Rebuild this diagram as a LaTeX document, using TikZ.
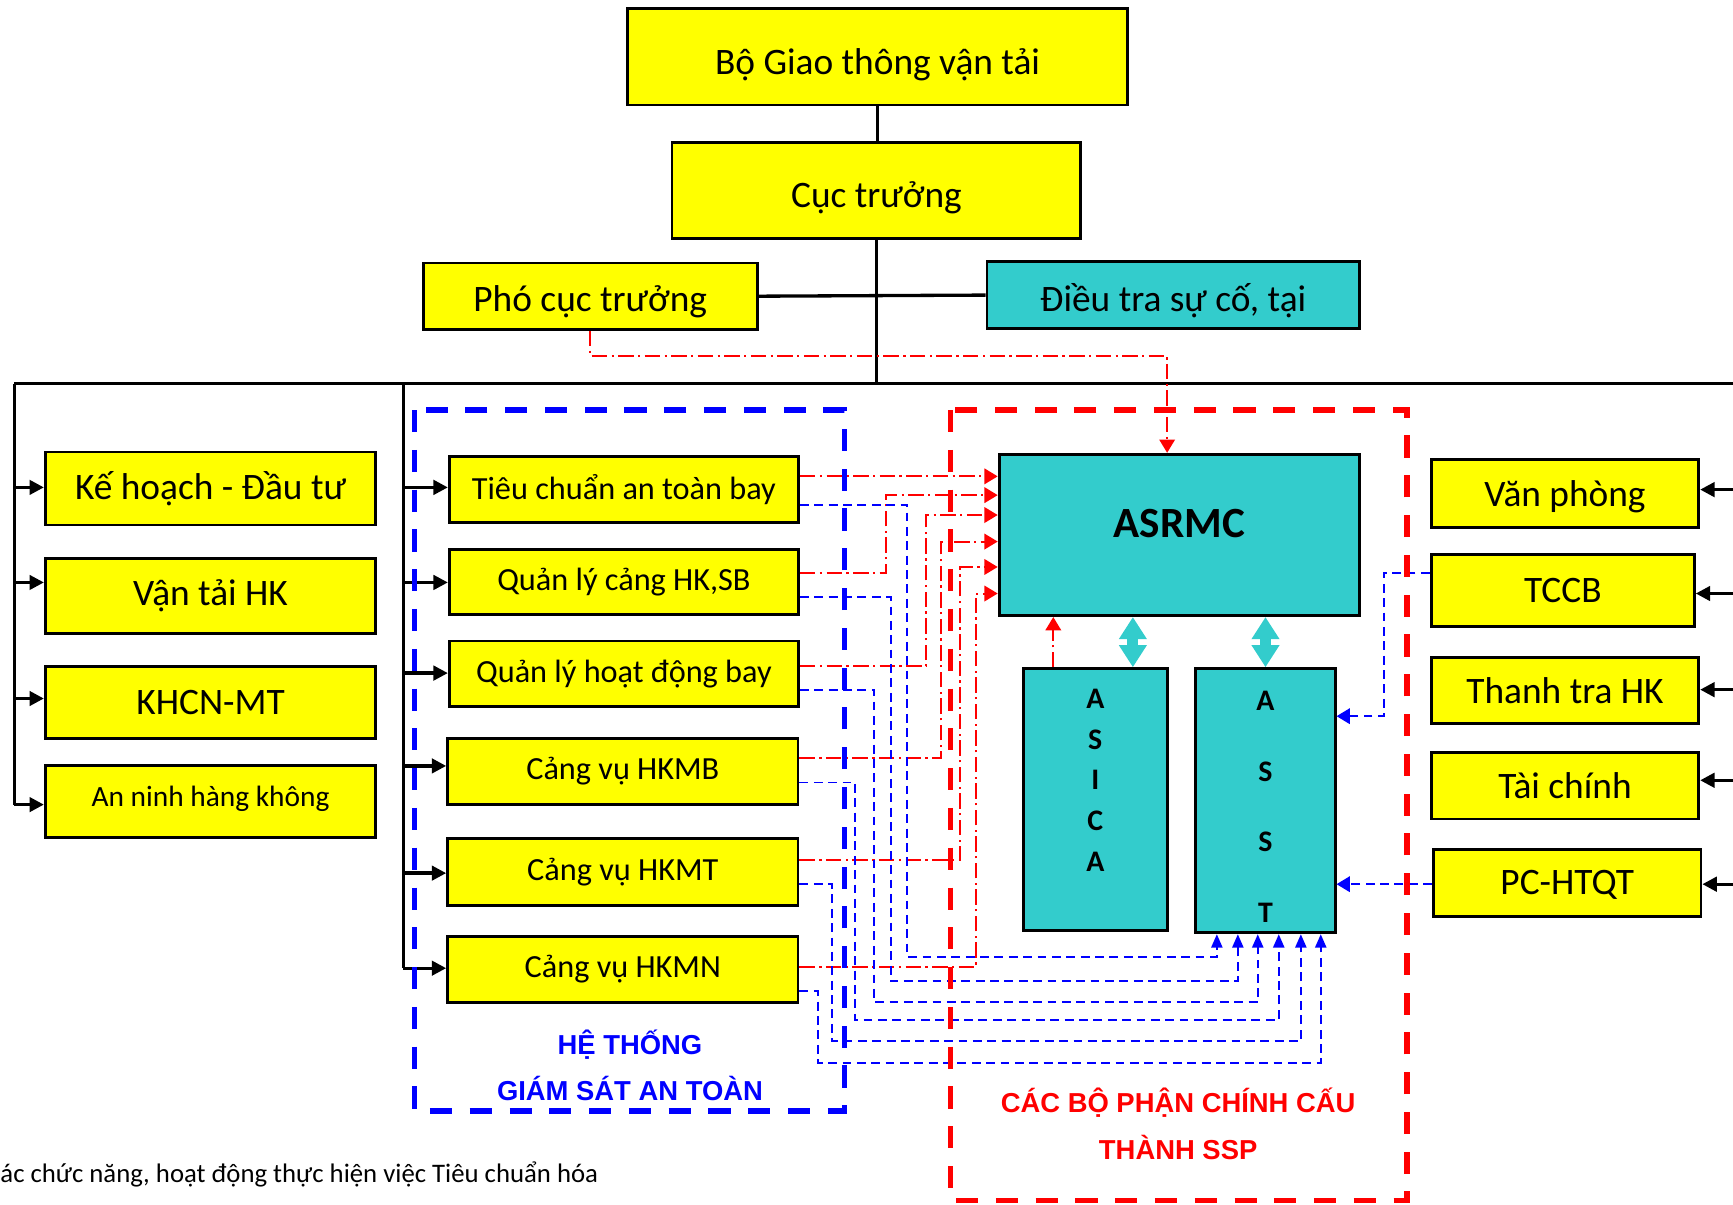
\documentclass[tikz,border=0pt]{standalone}
\usepackage{fontspec}
\setmainfont{Carlito}
\newfontfamily\labfont{Liberation Sans}
\newcommand\lowertext[2]{\raisebox{-#1}[\height][\depth]{#2}}
\usetikzlibrary{arrows.meta,calc}
\definecolor{yel}{HTML}{FFFF00}
\definecolor{tea}{HTML}{33CCCC}
\definecolor{bl}{HTML}{0000FF}
\definecolor{rd}{HTML}{FF0000}
\begin{document}
\begin{tikzpicture}[x=0.5pt,y=-0.5pt,
  ybox/.style={draw=black, line width=1.3pt, fill=yel, inner sep=0pt, font=\fontsize{16.9}{19}\selectfont},
  mbox/.style={ybox, minimum width=158pt, minimum height=30pt, font=\fontsize{14.6}{17}\selectfont},
  lbox/.style={ybox, minimum width=149.5pt},
  rbox/.style={ybox, minimum width=121pt, minimum height=30pt},
  tbox/.style={ybox, fill=tea},
  trunk/.style={black, line width=1.1pt},
  blk/.style={black, line width=1.5pt, -{Triangle[length=6.5pt,width=6.5pt]}},
  rdd/.style={rd, line width=0.9pt, dash pattern=on 7pt off 2pt on 1pt off 2pt},
  rarr/.style={rdd, -{Triangle[length=6pt,width=7pt]}},
  bdd/.style={bl, line width=0.9pt, dash pattern=on 4pt off 2.5pt},
  barr/.style={bdd, -{Triangle[length=6pt,width=5pt]}},
  barrb/.style={bdd, -{Triangle[length=6pt,width=7pt]}},
  dbl/.style={tea, line width=5pt, {Triangle[length=10pt,width=12pt]}-{Triangle[length=10pt,width=12pt]}},
  frame/.style={line width=2.5pt, dash pattern=on 10pt off 8pt},
  lett/.style={font=\bfseries\fontsize{13.5}{18.5}\selectfont, align=center, inner sep=0pt},
  lab/.style={font=\labfont\bfseries\fontsize{12.4}{15}\selectfont, inner sep=0pt}
]
\useasboundingbox (0,0) rectangle (1568,1090);

% top
\node[ybox, minimum width=226pt, minimum height=43.5pt] (bgt) at (794,51.5) {\lowertext{3.5pt}{Bộ Giao thông vận tải}};
\node[ybox, minimum width=185pt, minimum height=43.5pt] (ct) at (793,172.5) {\lowertext{3pt}{Cục trưởng}};
\node[ybox, minimum width=151pt, minimum height=30pt] (pho) at (534,268) {\lowertext{2.5pt}{Phó cục trưởng}};
\node[tbox, minimum width=168.5pt, minimum height=30pt] (dt) at (1061.5,267) {\lowertext{2.5pt}{Điều tra sự cố, tại}};

% left column
\node[lbox, minimum height=33pt] (kh) at (190.5,442) {Kế hoạch - Đầu tư};
\node[lbox, minimum height=34pt] (vt) at (190.5,539) {Vận tải HK};
\node[lbox, minimum height=32.5pt] (khcn) at (190.5,635.5) {KHCN-MT};
\node[lbox, minimum height=32.5pt, font=\fontsize{13.3}{15}\selectfont] (an) at (190.5,725.5) {\lowertext{-1.5pt}{An ninh hàng không}};

% middle column
\node[mbox] (tc) at (564.5,443) {Tiêu chuẩn an toàn bay};
\node[mbox, minimum height=29.5pt] (qlc) at (564.5,526.5) {Quản lý cảng HK,SB};
\node[mbox, minimum height=29.5pt] (qlh) at (564.5,609.5) {Quản lý hoạt động bay};
\node[mbox, minimum width=158.5pt] (hkmb) at (563.5,698) {Cảng vụ HKMB};
\node[mbox, minimum width=158.5pt] (hkmt) at (563.5,789) {Cảng vụ HKMT};
\node[mbox, minimum width=158.5pt] (hkmn) at (563.5,877) {Cảng vụ HKMN};

% right column
\node[rbox, minimum height=30.5pt] (vp) at (1416,446.5) {\lowertext{1.5pt}{Văn phòng}};
\node[rbox, minimum width=119pt, minimum height=32.5pt] (tccb) at (1414,534.5) {TCCB};
\node[rbox] (ttr) at (1416,625) {Thanh tra HK};
\node[rbox] (tch) at (1416,711) {Tài chính};
\node[rbox] (pc) at (1418,799) {\lowertext{1pt}{PC-HTQT}};

% SSP components
\node[tbox, minimum width=163pt, minimum height=73pt] (asrmc) at (1067,484) {};
\node[font=\bfseries\fontsize{19.5}{21}\selectfont, inner sep=0pt] (asrmcT) at (1067,474) {ASRMC};
\node[tbox, minimum width=65pt, minimum height=118.5pt] (asica) at (991,723.5) {};
\node[lett] (asicaT) at (991,706) {A\\S\\I\\C\\A};
\node[tbox, minimum width=63pt, minimum height=119.5pt] (asst) at (1145,724.5) {};
\node[lett, font=\bfseries\fontsize{13.5}{32}\selectfont] (asstT) at (1145,730) {A\\S\\S\\T};

% hierarchy lines
\coordinate (hub) at (793,347);
\coordinate (barL) at (13,347);
\coordinate (barR) at (1568,347);
\coordinate (bar2) at (365,347);
\draw[trunk] (bgt.south) -- (bgt.south |- ct.north);
\draw[trunk] (ct.south) -- (hub);
\draw[black, line width=1.5pt] (pho.east) -- (dt.west);
\draw[trunk, line width=1.3pt] (barL) -- (barR);
\draw[trunk] (barL) -- (13,728);
\draw[trunk] (bar2) -- (365,876);

\draw[blk] (13,441) -- (kh.west |- 13,441);
\draw[blk] (13,527) -- (vt.west |- 13,527);
\draw[blk] (13,632) -- (khcn.west |- 13,632);
\draw[blk] (13,728) -- (an.west |- 13,728);

\draw[blk] (365,441) -- (tc.west |- 365,441);
\draw[blk] (365,527) -- (qlc.west |- 365,527);
\draw[blk] (365,609) -- (qlh.west |- 365,609);
\draw[blk] (365,693) -- (hkmb.west |- 365,693);
\draw[blk] (365,790) -- (hkmt.west |- 365,790);
\draw[blk] (365,876) -- (hkmn.west |- 365,876);

\draw[blk] (1568,443) -- (vp.east |- 1568,443);
\draw[blk] (1568,537) -- (tccb.east |- 1568,537);
\draw[blk] (1568,624) -- (ttr.east |- 1568,624);
\draw[blk] (1568,706) -- (tch.east |- 1568,706);
\draw[blk] (1568,800) -- (pc.east |- 1568,800);

% red dash-dot connectors into ASRMC
\draw[rarr] (pho.south) |- (1056,322) -- (asrmc.north -| 1056,0);
\draw[rarr] ([yshift=6pt]tc.east) coordinate (r1) -- (r1 -| asrmc.west);
\draw[rarr] ([yshift=4.25pt]qlc.east) -| (802,448) -- (asrmc.west |- 802,448);
\draw[rarr] ([yshift=3.25pt]qlh.east) -| (838,466) -- (asrmc.west |- 838,466);
\draw[rarr] ([yshift=6pt]hkmb.east) -| (851,490) -- (asrmc.west |- 851,490);
\draw[rarr] ([yshift=5.5pt]hkmt.east) -| (869,513) -- (asrmc.west |- 869,513);
\draw[rarr] ([yshift=1pt]hkmn.east) -| (883,537) -- (asrmc.west |- 883,537);
\draw[rarr] (asica.north -| 953,0) -- (asrmc.south -| 953,0);

% blue dashed connectors into ASST
\draw[barr] ([yshift=-7pt]tc.east) -| (821,866) -| (asst.south -| 1101,0);
\draw[barr] ([yshift=-6.75pt]qlc.east) -| (806,888) -| (asst.south -| 1120,0);
\draw[barr] ([yshift=-7.25pt]qlh.east) -| (791,907) -| (asst.south -| 1138,0);
\draw[barr] ([yshift=-5pt]hkmb.east) -| (774,923) -| (asst.south -| 1157,0);
\draw[barr] ([yshift=-5.5pt]hkmt.east) -| (753,942) -| (asst.south -| 1177,0);
\draw[barr] ([yshift=-10pt]hkmn.east) -| (740,962) -| (asst.south -| 1195,0);
\draw[barrb] ([yshift=8.25pt]tccb.west) -| (1252,648) -- (asst.east |- 1252,648);
\draw[barrb] (pc.west |- 0,800) -- (asst.east |- 0,800);

% teal double arrows
\draw[dbl] (asrmc.south -| 1025,0) -- (asica.north -| 1025,0);
\draw[dbl] (asrmc.south -| 1145,0) -- (asst.north -| 1145,0);

% frames
\draw[frame, bl] (375,371) rectangle (764,1005);
\draw[frame, rd] (860,371) rectangle (1273,1086);

% labels
\node[lab, text=bl] (l1) at (570,945) {HỆ THỐNG};
\node[lab, text=bl] (l2) at (570,985) {GIÁM SÁT AN TOÀN};
\node[lab, text=rd] (l3) at (1066,998) {CÁC BỘ PHẬN CHÍNH CẤU};
\node[lab, text=rd] (l4) at (1066,1038) {THÀNH SSP};
\node[anchor=west, inner sep=0pt, font=\fontsize{12.1}{14}\selectfont] (note) at (0,1063) {ác chức năng, hoạt động thực hiện việc Tiêu chuẩn hóa};
\end{tikzpicture}
\end{document}
